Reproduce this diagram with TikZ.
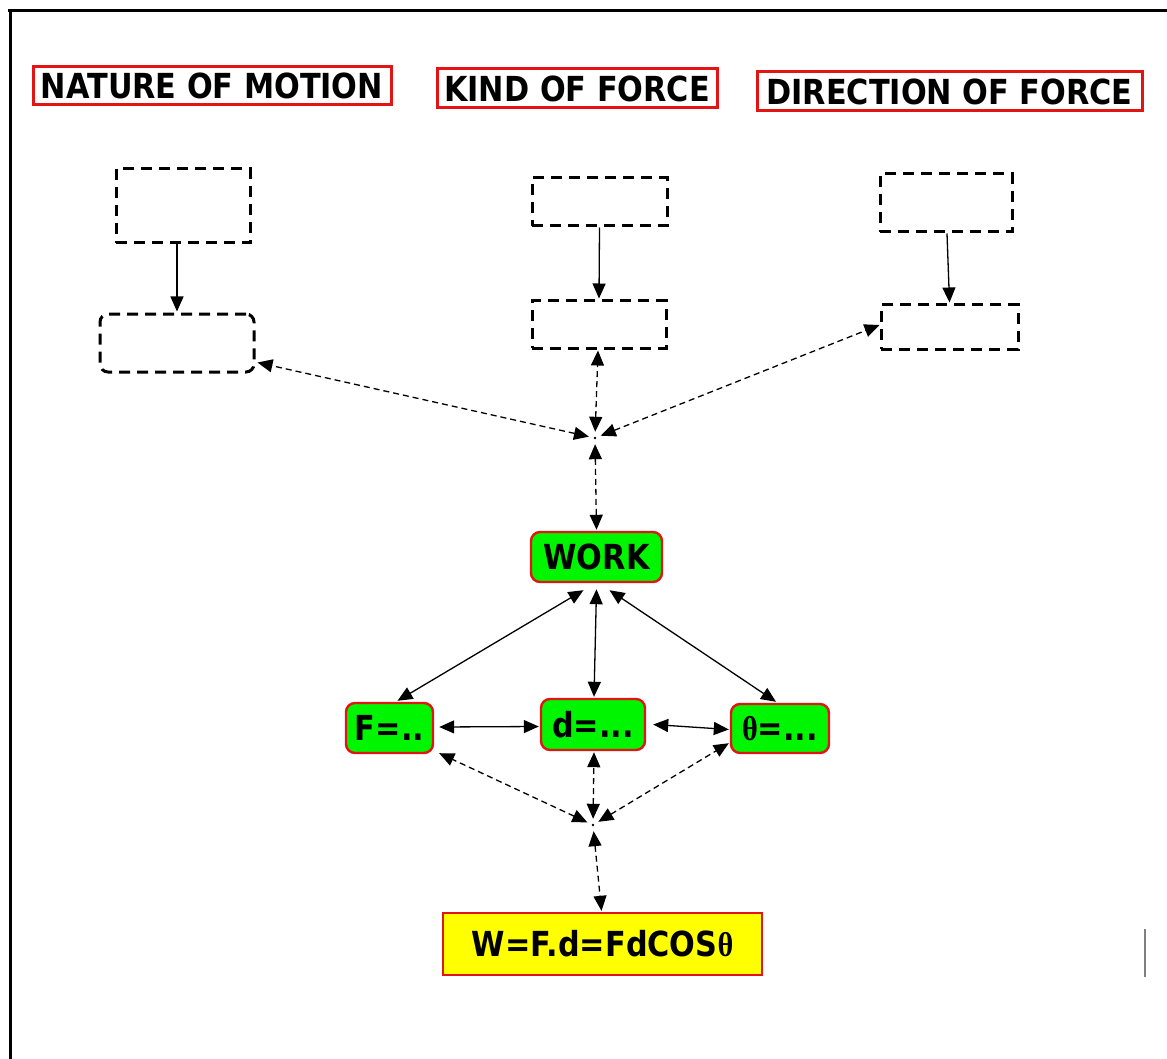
\documentclass[tikz,border=0pt]{standalone}
\usepackage{fontspec}
\setmainfont{DejaVu Sans}
\newfontfamily\thetafont{Liberation Serif}
\usetikzlibrary{arrows.meta,calc}
\definecolor{boxred}{RGB}{226,20,20}
\definecolor{boxgreen}{RGB}{0,245,0}
\definecolor{boxyellow}{RGB}{255,255,0}
\newcommand{\thetasym}{{\thetafont\bfseries θ}}
% bold label, stretched a little upright
\newcommand{\lbl}[1]{\scalebox{1.01}[1.15]{#1}}
\begin{document}
\begin{tikzpicture}[x=1pt,y=-1pt,
  >={Triangle[length=15pt,width=13pt]},
  every node/.style={font=\fontsize{30}{32}\selectfont\bfseries, inner sep=0pt},
  heading/.style={draw=boxred, line width=3pt, fill=white},
  blank/.style={draw=black, line width=3pt, dash pattern=on 11pt off 7pt},
  greenbox/.style={draw=boxred, line width=2.4pt, fill=boxgreen, rounded corners=9pt},
  resultbox/.style={draw=boxred, line width=2.4pt, fill=boxyellow},
  solidlink/.style={draw=black, line width=1.3pt, <->},
  solidarrow/.style={draw=black, line width=1.3pt, ->},
  dashlink/.style={draw=black, line width=1.3pt, dash pattern=on 6pt off 4pt, <->},
  hub/.style={circle, minimum size=12pt}]
\useasboundingbox (0,0) rectangle (1167,1059);
\fill[white] (0,0) rectangle (1167,1059);

% outer frame (top and left edges)
\draw[line width=3pt] (8,11) -- (1167,11);
\draw[line width=3pt] (10,11) -- (10,1059);
\draw[gray, line width=1.5pt] (1145,929) -- (1145,977);

% headings
\node[heading, minimum width=358pt, minimum height=38pt] (nature) at (212,86) {\lbl{NATURE OF MOTION}};
\node[heading, minimum width=280pt, minimum height=39pt] (kind) at (577,88.5) {\lbl{KIND OF FORCE}};
\node[heading, minimum width=385pt, minimum height=39pt] (direction) at (949.5,91.5) {\lbl{DIRECTION OF FORCE}};

% empty answer boxes
\node[blank, minimum width=134pt, minimum height=74pt] (nmtop) at (183,206) {};
\node[blank, rounded corners=8pt, minimum width=154pt, minimum height=58pt] (nmbot) at (177,343) {};
\node[blank, minimum width=135pt, minimum height=48pt] (kftop) at (599.5,202) {};
\node[blank, minimum width=134pt, minimum height=47pt] (kfbot) at (599,324.5) {};
\node[blank, minimum width=132pt, minimum height=58pt] (dftop) at (946,203) {};
\node[blank, minimum width=137pt, minimum height=44pt] (dfbot) at (949.5,327) {};

\draw[solidarrow] ($(nmtop.south)+(-6,0)$) -- ($(nmbot.north)+(0,-1)$);
\draw[solidarrow] (kftop.south) -- ($(kfbot.north)+(0,-1)$);
\draw[solidarrow] ($(dftop.south)+(1,0)$) -- ($(dfbot.north)+(0,-1)$);

% upper junction
\node[hub] (hubtop) at (595,438) {};
\fill (hubtop.center) circle (1.3pt);
\draw[dashlink] (hubtop) -- ($(nmbot.south east)+(2,-11)$);
\draw[dashlink] (hubtop) -- ($(kfbot.south)+(-1,1)$);
\draw[dashlink] (hubtop) -- ($(dfbot.west)+(0,-2)$);

% central concept and its quantities
\node[greenbox, minimum width=131pt, minimum height=50pt] (work) at (596.5,557) {\lbl{WORK}};
\node[greenbox, minimum width=87pt, minimum height=50pt] (force) at (389.5,728) {\lbl{F=..}};
\node[greenbox, minimum width=104pt, minimum height=51pt] (disp) at (593,724.5) {\lbl{d=...}};
\node[greenbox, minimum width=98pt, minimum height=49pt] (angle) at (780,728.5) {\lbl{\thetasym=...}};

\draw[dashlink] (hubtop) -- ($(work.north)+(0,-1)$);

\draw[solidlink] ($(work.south)+(-13,7)$) -- ($(force.north)+(8,-1)$);
\draw[solidlink] ($(work.south)+(0,6)$) -- ($(disp.north)+(1,-1)$);
\draw[solidlink] ($(work.south)+(13,7)$) -- ($(angle.north)+(-4,-1)$);
\draw[solidlink] ($(force.east)+(5,-1)$) -- ($(disp.west)+(-1,2)$);
\draw[solidlink] ($(disp.east)+(7,0)$) -- ($(angle.west)+(-1,1)$);

% lower junction
\node[hub] (hubbot) at (593,825) {};
\fill (hubbot.center) circle (1.3pt);
\draw[dashlink] (hubbot) -- ($(force.south east)+(5,-1)$);
\draw[dashlink] (hubbot) -- ($(disp.south)+(1,1)$);
\draw[dashlink] (hubbot) -- ($(angle.south west)+(-1,-11)$);

% result
\node[resultbox, minimum width=319pt, minimum height=62pt] (result) at (602.5,944) {\lbl{W=F.d=FdCOS\thetasym}};
\draw[dashlink] (hubbot) -- ($(result.north)+(-1,-1)$);
\end{tikzpicture}
\end{document}
